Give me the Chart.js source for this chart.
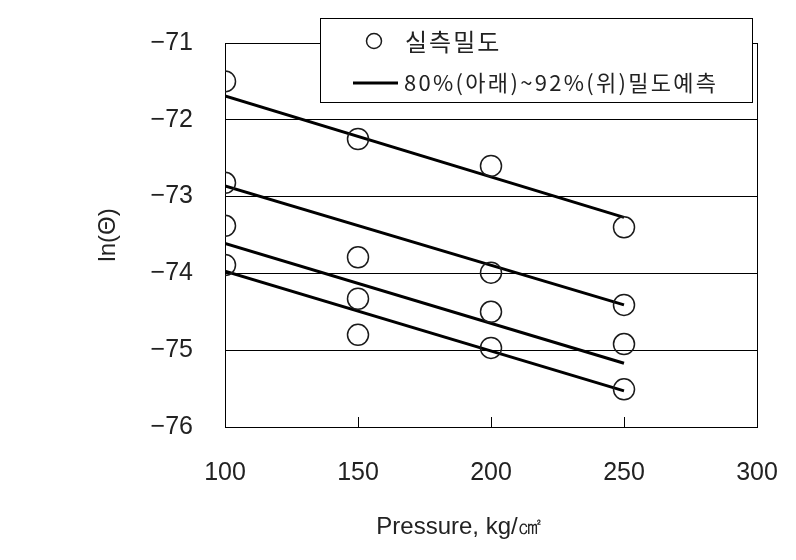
<!DOCTYPE html>
<html>
<head>
<meta charset="utf-8">
<script src="https://cdn.jsdelivr.net/npm/chart.js@4.4.0/dist/chart.umd.min.js"></script>
<style>
  html, body { margin: 0; padding: 0; background: #fff; }
  #wrap { width: 796px; height: 560px; }
</style>
</head>
<body>
<div id="wrap"><canvas id="chart" width="796" height="560"></canvas></div>
<script>
// measured density points (top group to bottom group)
var pressure = [100, 150, 200, 250];
var meas1 = [-71.50, -72.25, -72.60, -73.40];
var meas2 = [-72.82, -73.79, -73.99, -74.41];
var meas3 = [-73.38, -74.33, -74.50, -74.92];
var meas4 = [-73.89, -74.80, -74.97, -75.51];

// predicted lines, 92% (top) down to 80% (bottom)
var linePressure = [100, 250];
var pred1 = [-71.69, -73.27];
var pred2 = [-72.86, -74.41];
var pred3 = [-73.61, -75.17];
var pred4 = [-73.97, -75.53];

var xTicks = [100, 150, 200, 250, 300];
var legendLabels = ['실측밀도', '80%(아래)~92%(위)밀도예측'];
var xTitle = 'Pressure, kg/㎠';
var yTitle = 'ln(Θ)';

var ink = '#1a1a1a';

function pts(xs, ys) {
    var out = [];
    for (var i = 0; i < xs.length; i++) {
        out.push({x: xs[i], y: ys[i]});
    }
    return out;
}

function measSet(ys) {
    return {
        data: pts(pressure, ys),
        showLine: false,
        pointStyle: 'circle',
        pointRadius: 10.5,
        borderWidth: 1.5,
        borderColor: ink,
        backgroundColor: 'rgba(0,0,0,0)'
    };
}

function predSet(ys) {
    return {
        data: pts(linePressure, ys),
        showLine: true,
        pointRadius: 0,
        borderWidth: 3,
        borderColor: '#000',
        backgroundColor: '#000'
    };
}

var framePlugin = {
    id: 'frame',
    beforeDatasetsDraw: function(chart) {
        var a = chart.chartArea, ctx = chart.ctx, xs = chart.scales.x;
        ctx.save();
        ctx.strokeStyle = '#000';
        ctx.lineWidth = 1;
        ctx.strokeRect(a.left + 0.5, a.top + 0.5, a.right - a.left, a.bottom - a.top);
        // inner ticks on x axis
        for (var i = 1; i < xTicks.length - 1; i++) {
            var px = Math.round(xs.getPixelForValue(xTicks[i])) + 0.5;
            ctx.beginPath();
            ctx.moveTo(px, a.bottom);
            ctx.lineTo(px, a.bottom - 10);
            ctx.stroke();
        }
        ctx.restore();
    },
    afterDraw: function(chart) {
        var ctx = chart.ctx;
        ctx.save();
        // legend box
        ctx.fillStyle = '#fff';
        ctx.fillRect(320, 18, 432, 84);
        ctx.strokeStyle = '#000';
        ctx.lineWidth = 1;
        ctx.strokeRect(320.5, 18.5, 432, 84);
        ctx.lineWidth = 1.5;
        ctx.strokeStyle = ink;
        ctx.beginPath();
        ctx.arc(374, 41, 7.5, 0, Math.PI * 2);
        ctx.stroke();
        ctx.lineWidth = 3;
        ctx.strokeStyle = '#000';
        ctx.beginPath();
        ctx.moveTo(353, 83);
        ctx.lineTo(398, 83);
        ctx.stroke();
        ctx.fillStyle = '#222';
        ctx.textBaseline = 'middle';
        ctx.textAlign = 'left';
        ctx.font = '24px "Noto Sans CJK KR", sans-serif';
        ctx.letterSpacing = '2px';
        ctx.fillText(legendLabels[0], 405, 42);
        ctx.font = '22px "Noto Sans CJK KR", sans-serif';
        ctx.letterSpacing = '2.3px';
        ctx.fillText(legendLabels[1], 404, 83, 318);
        ctx.letterSpacing = '0px';
        // x axis title
        ctx.textAlign = 'center';
        ctx.font = '24px "Liberation Sans", Arial, sans-serif';
        ctx.fillText(xTitle, 459, 527);
        ctx.restore();
    }
};

var chart = new Chart(document.getElementById('chart').getContext('2d'), {
    type: 'scatter',
    data: {
        datasets: [
            measSet(meas1), measSet(meas2), measSet(meas3), measSet(meas4),
            predSet(pred1), predSet(pred2), predSet(pred3), predSet(pred4)
        ]
    },
    options: {
        responsive: false,
        animation: false,
        layout: {padding: {top: 43, right: 39, left: 0, bottom: 0}},
        plugins: {
            legend: {display: false},
            tooltip: {enabled: false}
        },
        scales: {
            x: {
                type: 'linear',
                min: 100,
                max: 300,
                afterFit: function(s) {
                    s.height = 133;
                    s.paddingLeft = 0;
                    s.paddingRight = 0;
                },
                afterBuildTicks: function(s) {
                    s.ticks = xTicks.map(function(v) { return {value: v}; });
                },
                grid: {display: false, drawTicks: false},
                border: {display: false},
                ticks: {
                    color: '#222',
                    padding: 31,
                    font: {family: '"Liberation Sans", Arial, sans-serif', size: 25}
                }
            },
            y: {
                type: 'linear',
                min: -76,
                max: -71,
                afterFit: function(s) {
                    s.width = 225;
                    s.paddingTop = 0;
                    s.paddingBottom = 0;
                },
                grid: {color: '#000', lineWidth: 1, drawTicks: false},
                border: {display: false},
                ticks: {
                    stepSize: 1,
                    color: '#222',
                    padding: 32,
                    font: {family: '"Liberation Sans", Arial, sans-serif', size: 25},
                    callback: function(v) { return '\u2212' + Math.abs(v); }
                },
                title: {
                    display: true,
                    text: yTitle,
                    color: '#222',
                    padding: {top: 94, bottom: 0},
                    font: {family: '"Liberation Sans", Arial, sans-serif', size: 24}
                }
            }
        }
    },
    plugins: [framePlugin]
});
</script>
</body>
</html>
